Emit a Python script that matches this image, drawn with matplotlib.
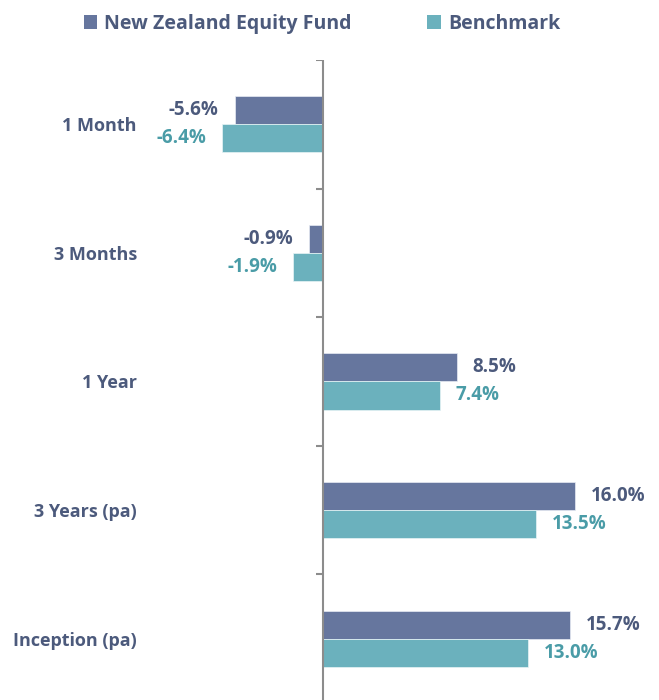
import numpy as np
import matplotlib
matplotlib.use('Agg')
import matplotlib.pyplot as plt
from matplotlib.patches import Patch

# data
categories = ['1 Month', '3 Months', '1 Year', '3 Years (pa)', 'Inception (pa)']
fund = [-5.6, -0.9, 8.5, 16.0, 15.7]
benchmark = [-6.4, -1.9, 7.4, 13.5, 13.0]
series_names = ['New Zealand Equity Fund', 'Benchmark']

fund_color = '#66769E'
bench_color = '#6BB1BD'
fund_text = '#4C5A7C'
bench_text = '#4A9CA7'

plt.rcParams['font.family'] = ['Open Sans', 'DejaVu Sans']
plt.rcParams['font.weight'] = 'bold'

fig = plt.figure(figsize=(6.59, 7.0), dpi=100)
ax = fig.add_axes([145 / 659, 0, 514 / 659, 640 / 700])

y = np.arange(len(categories))
h = 0.218
ax.barh(y - h / 2, fund, height=h, color=fund_color, edgecolor='#E8ECF4', linewidth=0.5)
ax.barh(y + h / 2, benchmark, height=h, color=bench_color, edgecolor='#E8F4F6', linewidth=0.5)

ax.set_xlim(-11.30, 21.33)
ax.set_ylim(4.477, -0.5)

# value labels
for vals, off, col in [(fund, -h / 2, fund_text), (benchmark, h / 2, bench_text)]:
    for i, v in enumerate(vals):
        ax.annotate(f'{v:.1f}%', (v, i + off), xytext=(11.5 if v >= 0 else -11.5, 0),
                    textcoords='offset points', ha='left' if v >= 0 else 'right',
                    va='center', fontsize=13.5, fontweight='bold', color=col)

# category axis
for s in ax.spines.values():
    s.set_visible(False)
ax.set_xticks([])
ax.set_yticks(y)
ax.set_yticklabels(categories, fontsize=13, fontweight='bold', color=fund_text)
ax.tick_params(axis='y', length=0, pad=5.8)
ax.axvline(0, color='#8C8C8C', lw=1.5)
ax.hlines(np.arange(len(categories) + 1) - 0.5, -0.42, 0, color='#8C8C8C', lw=1.5)

handles = [Patch(facecolor=fund_color), Patch(facecolor=bench_color)]
fig.legend(handles, series_names, loc='upper left', bbox_to_anchor=(70 / 659, 1.0),
           ncol=2, frameon=False, labelcolor=fund_text,
           handlelength=0.7, handleheight=0.7, handletextpad=0.35,
           columnspacing=3.9, borderaxespad=0.3, prop={'weight': 'bold', 'size': 14})

fig.savefig('out.png', dpi=100)
